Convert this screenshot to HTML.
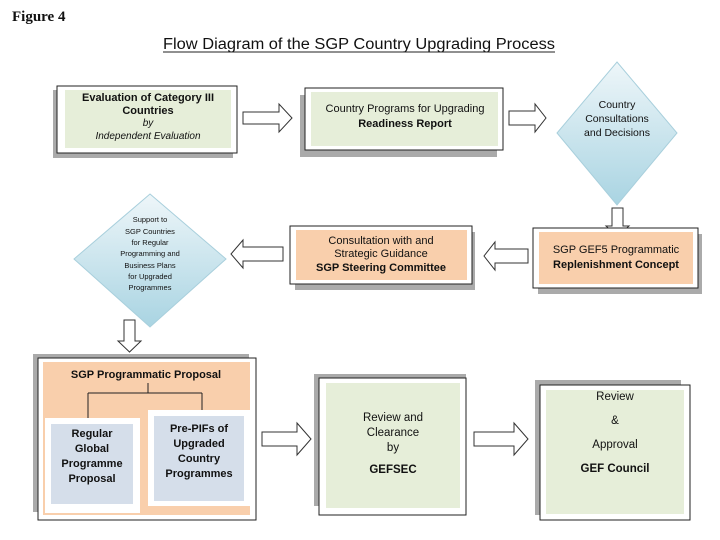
<!DOCTYPE html>
<html><head><meta charset="utf-8"><style>
html,body{margin:0;padding:0;background:#fff}
svg{display:block}
text{font-family:"Liberation Sans",Arial,sans-serif;fill:#111}
</style></head><body>
<svg width="720" height="540" viewBox="0 0 720 540" xmlns="http://www.w3.org/2000/svg">
<text x="12" y="21" style="font-family:'Liberation Serif',serif;font-weight:bold;font-size:15px">Figure 4</text>
<text x="163" y="49" font-size="15.5" textLength="392" lengthAdjust="spacingAndGlyphs">Flow Diagram of the SGP Country Upgrading Process</text>
<line x1="163" y1="52" x2="555" y2="52" stroke="#222" stroke-width="1"/>

<!-- Box1 -->
<rect x="53" y="90" width="180" height="68" fill="#aaa"/>
<rect x="57" y="86" width="180" height="67" fill="#fff" stroke="#222"/>
<rect x="65" y="90" width="166" height="58" fill="#e6eed9"/>
<text x="148" y="101" font-size="11" font-weight="bold" text-anchor="middle">Evaluation of Category III</text>
<text x="148" y="114" font-size="11" font-weight="bold" text-anchor="middle">Countries</text>
<text x="148" y="126" font-size="10" font-style="italic" text-anchor="middle">by</text>
<text x="148" y="139" font-size="10" font-style="italic" text-anchor="middle">Independent Evaluation</text>

<!-- arrow right -->
<path d="M243,112 H279 V104 L292,118 L279,132 V124 H243 Z" fill="#fff" stroke="#333"/>

<!-- Box2 -->
<rect x="300" y="95" width="197" height="62" fill="#aaa"/>
<rect x="305" y="88" width="198" height="62" fill="#fff" stroke="#222"/>
<rect x="311" y="92" width="187" height="54" fill="#e6eed9"/>
<text x="405" y="112" font-size="11" text-anchor="middle">Country Programs for Upgrading</text>
<text x="405" y="127" font-size="11" font-weight="bold" text-anchor="middle">Readiness Report</text>

<path d="M509,111 H535 V104 L546,118 L535,132 V125 H509 Z" fill="#fff" stroke="#333"/>

<!-- Diamond1 -->
<defs><linearGradient id="g" x1="0" y1="0" x2="0" y2="1"><stop offset="0" stop-color="#eef6f9"/><stop offset="1" stop-color="#a9d4e2"/></linearGradient></defs>
<polygon points="617,62 677,133 617,205 557,133" fill="url(#g)" stroke="#a8cfdc"/>
<text x="617" y="108" font-size="10.5" text-anchor="middle">Country</text>
<text x="617" y="122" font-size="10.5" text-anchor="middle">Consultations</text>
<text x="617" y="136" font-size="10.5" text-anchor="middle">and Decisions</text>

<path d="M612,208 H623 V226 H629 L617.5,236 L606,226 H612 Z" fill="#fff" stroke="#333"/>

<!-- SGP GEF5 -->
<rect x="538" y="234" width="164" height="60" fill="#aaa"/>
<rect x="533" y="228" width="165" height="60" fill="#fff" stroke="#222"/>
<rect x="539" y="232" width="154" height="52" fill="#f9cfac"/>
<text x="616" y="253" font-size="11" text-anchor="middle">SGP GEF5 Programmatic</text>
<text x="616" y="268" font-size="11" font-weight="bold" text-anchor="middle">Replenishment Concept</text>

<path d="M528,249 H495 V242 L484,256 L495,270 V263 H528 Z" fill="#fff" stroke="#333"/>

<!-- Consultation -->
<rect x="295" y="232" width="180" height="58" fill="#aaa"/>
<rect x="290" y="226" width="182" height="58" fill="#fff" stroke="#222"/>
<rect x="296" y="230" width="171" height="50" fill="#f9cfac"/>
<text x="381" y="244" font-size="11" text-anchor="middle">Consultation with and</text>
<text x="381" y="257" font-size="11" text-anchor="middle">Strategic Guidance</text>
<text x="381" y="271" font-size="11" font-weight="bold" text-anchor="middle">SGP Steering Committee</text>

<path d="M283,247 H243 V240 L231,254 L243,268 V261 H283 Z" fill="#fff" stroke="#333"/>

<!-- Diamond2 -->
<polygon points="150,194 226,259 150,327 74,259" fill="url(#g)" stroke="#a8cfdc"/>
<g font-size="7.5" text-anchor="middle">
<text x="150" y="222">Support to</text>
<text x="150" y="234">SGP Countries</text>
<text x="150" y="245">for Regular</text>
<text x="150" y="256">Programming and</text>
<text x="150" y="268">Business Plans</text>
<text x="150" y="279">for Upgraded</text>
<text x="150" y="290">Programmes</text>
</g>

<path d="M124,320 H135 V341 H141 L129.5,352 L118,341 H124 Z" fill="#fff" stroke="#333"/>

<!-- Big box -->
<rect x="33" y="354" width="216" height="158" fill="#aaa"/>
<rect x="38" y="358" width="218" height="162" fill="#fff" stroke="#222"/>
<rect x="43" y="362" width="207" height="153" fill="#f9cfac"/>
<text x="146" y="378" font-size="11" font-weight="bold" text-anchor="middle">SGP Programmatic Proposal</text>
<path d="M148,383 V393 M88,393 H202 M88,393 V418 M202,393 V410" stroke="#222" fill="none"/>
<rect x="45" y="418" width="95" height="95" fill="#fff"/>
<rect x="51" y="424" width="82" height="80" fill="#d5deea"/>
<rect x="148" y="410" width="102" height="96" fill="#fff"/>
<rect x="154" y="416" width="90" height="85" fill="#d5deea"/>
<g font-size="11" font-weight="bold" text-anchor="middle">
<text x="92" y="437">Regular</text><text x="92" y="452">Global</text><text x="92" y="467">Programme</text><text x="92" y="482">Proposal</text>
<text x="199" y="432">Pre-PIFs of</text><text x="199" y="447">Upgraded</text><text x="199" y="462">Country</text><text x="199" y="477">Programmes</text>
</g>

<path d="M262,432 H297 V423 L311,439 L297,455 V446 H262 Z" fill="#fff" stroke="#333"/>

<!-- GEFSEC -->
<rect x="314" y="374" width="152" height="132" fill="#aaa"/>
<rect x="319" y="378" width="147" height="137" fill="#fff" stroke="#222"/>
<rect x="326" y="383" width="134" height="125" fill="#e6eed9"/>
<g font-size="11.5" text-anchor="middle">
<text x="393" y="421">Review and</text><text x="393" y="436">Clearance</text><text x="393" y="451">by</text>
<text x="393" y="473" font-weight="bold">GEFSEC</text></g>

<path d="M474,432 H514 V423 L528,439 L514,455 V446 H474 Z" fill="#fff" stroke="#333"/>

<!-- GEF Council -->
<rect x="535" y="380" width="146" height="135" fill="#aaa"/>
<rect x="540" y="385" width="150" height="135" fill="#fff" stroke="#222"/>
<rect x="546" y="390" width="138" height="124" fill="#e6eed9"/>
<g font-size="11.5" text-anchor="middle">
<text x="615" y="400">Review</text><text x="615" y="424">&amp;</text><text x="615" y="448">Approval</text>
<text x="615" y="472" font-weight="bold">GEF Council</text></g>
</svg>
</body></html>
